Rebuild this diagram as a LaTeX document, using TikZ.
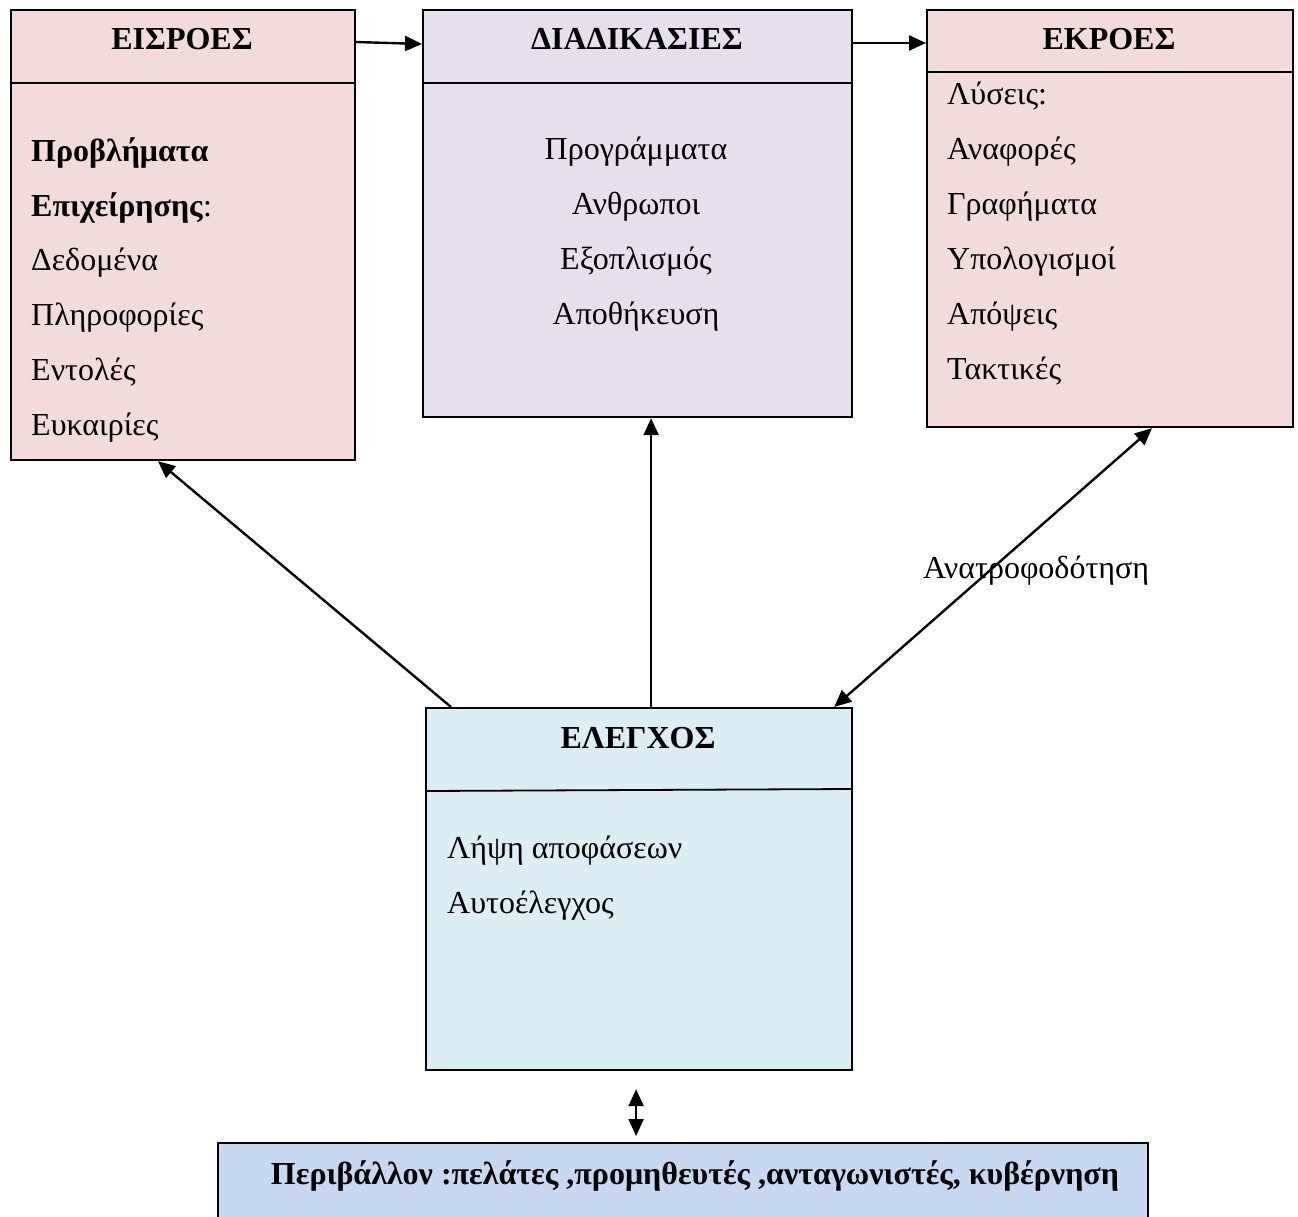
\documentclass[tikz,border=0pt]{standalone}
\usepackage{fontspec}
\setmainfont{Liberation Serif}
\usetikzlibrary{arrows.meta}
\definecolor{rosefill}{HTML}{F2DCDB}
\definecolor{lilacfill}{HTML}{E5E0EC}
\definecolor{aquafill}{HTML}{DAEEF3}
\definecolor{skyfill}{HTML}{C6D9F1}
\tikzset{
  panel/.style={draw=black, line width=2.2pt, rectangle, inner sep=0pt, anchor=north west},
  ttl/.style={font=\fontsize{32}{32}\selectfont\bfseries, anchor=base, inner sep=0pt},
  itemL/.style={font=\fontsize{32}{32}\selectfont, anchor=base west, inner sep=0pt},
  itemC/.style={font=\fontsize{32}{32}\selectfont, anchor=base, inner sep=0pt},
  conn/.style={line width=2.4pt, -{Triangle[length=17pt,width=15pt]}},
  conn2/.style={line width=2.4pt, {Triangle[length=17pt,width=15pt]}-{Triangle[length=17pt,width=15pt]}},
}
\begin{document}
\begin{tikzpicture}[x=1pt,y=-1pt]
\useasboundingbox (0,0) rectangle (1298,1216);
\fill[white] (0,0) rectangle (1298,1216);

% the four panels of the system
\node[panel, fill=rosefill, minimum width=344pt, minimum height=450pt] (inp) at (10,9) {};
\node[panel, fill=lilacfill, minimum width=429pt, minimum height=407pt] (proc) at (422,9) {};
\node[panel, fill=rosefill, minimum width=366pt, minimum height=417pt] (outp) at (926,9) {};
\node[panel, fill=aquafill, minimum width=426pt, minimum height=362pt] (ctrl) at (425,707) {};
\node[panel, fill=skyfill, minimum width=930pt, minimum height=120pt] (env) at (217,1142) {};

% header dividers
\draw[line width=1.8pt] (10,83) -- (354,83);
\draw[line width=1.8pt] (422,83) -- (851,83);
\draw[line width=1.8pt] (926,72) -- (1292,72);
\draw[line width=1.8pt] (425,791) -- (851,789);

% headers
\node[ttl] (tinp) at (182,49) {ΕΙΣΡΟΕΣ};
\node[ttl] (tproc) at (637,49) {ΔΙΑΔΙΚΑΣΙΕΣ};
\node[ttl] (toutp) at (1109,49) {ΕΚΡΟΕΣ};
\node[ttl] (tctrl) at (638,748) {ΕΛΕΓΧΟΣ};

% inputs
\node[itemL, font=\fontsize{32}{32}\selectfont\bfseries] (i1) at (31,161) {Προβλήματα};
\node[itemL] (i2) at (31,216) {\textbf{Επιχείρησης}:};
\node[itemL] (i3) at (31,270) {Δεδομένα};
\node[itemL] (i4) at (31,325) {Πληροφορίες};
\node[itemL] (i5) at (31,380) {Εντολές};
\node[itemL] (i6) at (31,435) {Ευκαιρίες};

% processes
\node[itemC] (p1) at (636,159) {Προγράμματα};
\node[itemC] (p2) at (636,214) {Ανθρωποι};
\node[itemC] (p3) at (636,269) {Εξοπλισμός};
\node[itemC] (p4) at (636,324) {Αποθήκευση};

% outputs
\node[itemL] (o1) at (947,104) {Λύσεις:};
\node[itemL] (o2) at (947,159) {Αναφορές};
\node[itemL] (o3) at (947,214) {Γραφήματα};
\node[itemL] (o4) at (947,269) {Υπολογισμοί};
\node[itemL] (o5) at (947,324) {Απόψεις};
\node[itemL] (o6) at (947,379) {Τακτικές};

% control
\node[itemL] (c1) at (447,858) {Λήψη αποφάσεων};
\node[itemL] (c2) at (447,913) {Αυτοέλεγχος};

% environment
\node[anchor=base, inner sep=0pt, font=\fontsize{32}{32}\selectfont\bfseries] (e1) at (695,1184)
  {Περιβάλλον :πελάτες ,προμηθευτές ,ανταγωνιστές, κυβέρνηση};

% connectors
\draw[conn] ([yshift=-33pt]inp.north east) -- ([yshift=-35pt]proc.north west);
\draw[conn] ([yshift=-34pt]proc.north east) -- ([yshift=-34pt]outp.north west);
\draw[conn] ([xshift=26pt]ctrl.north west) -- ([xshift=148pt]inp.south west);
\draw[conn] ([xshift=12pt]ctrl.north) -- ([xshift=13.5pt]proc.south);
\draw[conn2] ([xshift=-19pt]ctrl.north east) -- ([xshift=226pt]outp.south west);
\draw[conn2] ([xshift=-3pt,yshift=-18pt]ctrl.south) -- ([xshift=-47pt,yshift=6pt]env.north);

\node[itemL] (fb) at (923,578) {Ανατροφοδότηση};
\end{tikzpicture}
\end{document}
